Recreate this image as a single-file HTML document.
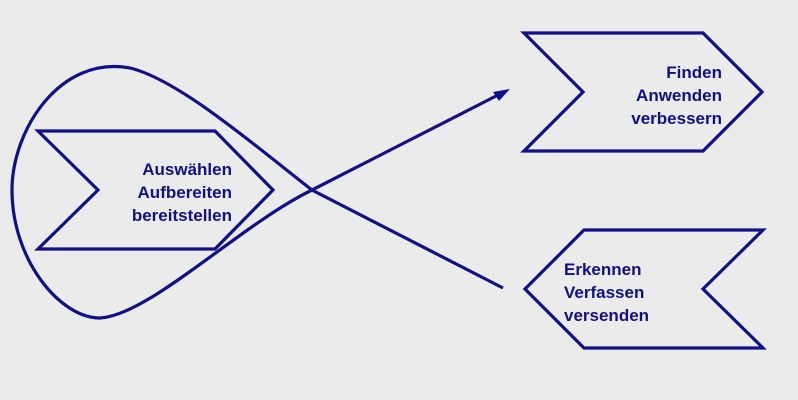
<!DOCTYPE html>
<html><head><meta charset="utf-8"><style>
html,body{margin:0;padding:0;background:#ebebeb;}
svg{display:block}
text{font-family:"Liberation Sans",Arial,sans-serif;font-weight:bold;font-size:17px;fill:#10108a}
</style></head><body>
<svg width="798" height="400" viewBox="0 0 798 400" xmlns="http://www.w3.org/2000/svg">
<g fill="none" stroke="#10108a" stroke-width="3.2" stroke-linejoin="miter">
<polygon points="38,131 215,131 273,190 215,249 38,249 98,190"/>
<polygon points="524,33 703,33 762,92 703,151 524,151 583,92"/>
<polygon points="584,230 763,230 703,289 763,348 584,348 525,289"/>
<path d="M503,288 L312,190 C260,150 180,80 130,68 C60,55 12,130 12,190 C12,260 60,318 100,318 C150,315 240,225 312,190 L498,95"/>
</g>
<polygon points="510,89 493,92 499,101" fill="#10108a"/>
<g text-anchor="end">
<text x="232" y="175">Auswählen</text>
<text x="232" y="198">Aufbereiten</text>
<text x="232" y="221">bereitstellen</text>
<text x="722" y="78">Finden</text>
<text x="722" y="101">Anwenden</text>
<text x="722" y="124">verbessern</text>
</g>
<text x="564" y="275">Erkennen</text>
<text x="564" y="298">Verfassen</text>
<text x="564" y="321">versenden</text>
</svg>
</body></html>
